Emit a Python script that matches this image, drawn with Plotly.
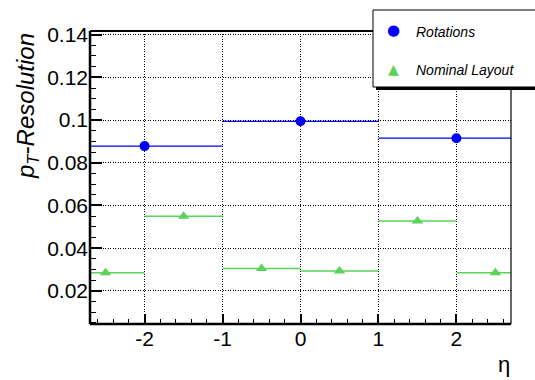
import plotly.graph_objects as go

# Data
rot_eta = [-2.0, 0.0, 2.0]
rot_res = [0.0878, 0.0994, 0.0915]
rot_halfwidth = 1.0

nom_eta = [-2.5, -1.5, -0.5, 0.5, 1.5, 2.5]
nom_res = [0.0285, 0.0549, 0.0305, 0.0293, 0.0527, 0.0285]
nom_halfwidth = 0.5

x_ticks = [-2, -1, 0, 1, 2]
y_ticks = [0.02, 0.04, 0.06, 0.08, 0.1, 0.12, 0.14]

BLUE = "#0000ff"
GREEN = "#5ad35a"
FONT = "Liberation Sans, Arial, Helvetica, sans-serif"

fig = go.Figure()
fig.add_trace(go.Scatter(
    x=nom_eta, y=nom_res, mode="markers",
    marker=dict(symbol="triangle-up", size=10, color=GREEN),
    error_x=dict(type="constant", value=nom_halfwidth, width=0, color=GREEN, thickness=1.5),
    name="Nominal Layout", showlegend=False,
))
fig.add_trace(go.Scatter(
    x=rot_eta, y=rot_res, mode="markers",
    marker=dict(symbol="circle", size=10, color=BLUE),
    error_x=dict(type="constant", value=rot_halfwidth, width=0, color=BLUE, thickness=1.2),
    name="Rotations", showlegend=False,
))

W, H = 535, 380
L, R, T, B = 90, 24, 31, 56
pw, ph = W - L - R, H - T - B

def px(x):
    return (x - L) / pw

def py(y):
    return (H - B - y) / ph

fig.update_layout(
    width=W, height=H,
    margin=dict(l=L, r=R, t=T, b=B, pad=0),
    paper_bgcolor="white", plot_bgcolor="white",
    font=dict(family=FONT, color="black"),
    xaxis=dict(
        range=[-2.7, 2.7], tickvals=x_ticks, ticktext=[str(v) for v in x_ticks],
        ticks="inside", ticklen=10, tickwidth=1.5, tickcolor="black",
        minor=dict(dtick=0.2, ticks="inside", ticklen=5, tickwidth=1, tickcolor="black", showgrid=False),
        showgrid=True, gridcolor="black", griddash="1px,1.5px", gridwidth=1,
        zeroline=False, showline=False,
        tickfont=dict(size=21, family=FONT), ticklabelstandoff=0,
    ),
    yaxis=dict(
        range=[0.0045, 0.1417], tickvals=y_ticks,
        ticktext=["0.02", "0.04", "0.06", "0.08", "0.1", "0.12", "0.14"],
        ticks="inside", ticklen=12, tickwidth=1.5, tickcolor="black",
        minor=dict(dtick=0.005, ticks="inside", ticklen=6, tickwidth=1, tickcolor="black", showgrid=False),
        showgrid=True, gridcolor="black", griddash="1px,1.5px", gridwidth=1,
        zeroline=False, showline=False,
        tickfont=dict(size=21, family=FONT), ticklabelstandoff=1,
    ),
)

shapes = [
    # frame
    dict(type="line", xref="paper", yref="paper", x0=0, x1=0, y0=0, y1=1, line=dict(color="black", width=2.5)),
    dict(type="line", xref="paper", yref="paper", x0=0, x1=1, y0=0, y1=0, line=dict(color="black", width=2.5)),
    dict(type="line", xref="paper", yref="paper", x0=0, x1=1, y0=1, y1=1, line=dict(color="black", width=2)),
    dict(type="line", xref="paper", yref="paper", x0=1, x1=1, y0=0, y1=1, line=dict(color="black", width=1.2)),
    # legend shadow + box
    dict(type="rect", xref="paper", yref="paper", x0=px(376), x1=px(548), y0=py(90), y1=py(13),
         fillcolor="black", line=dict(width=0), layer="above"),
    dict(type="rect", xref="paper", yref="paper", x0=px(373), x1=px(545), y0=py(87), y1=py(10),
         fillcolor="white", line=dict(color="black", width=1), layer="above"),
]
fig.update_layout(shapes=shapes)

ann = [
    dict(text="●", x=px(393), y=py(30), xref="paper", yref="paper", showarrow=False,
         font=dict(size=15, color=BLUE, family="DejaVu Sans"), xanchor="center", yanchor="middle"),
    dict(text="▲", x=px(393), y=py(69), xref="paper", yref="paper", showarrow=False,
         font=dict(size=14, color=GREEN, family="DejaVu Sans"), xanchor="center", yanchor="middle"),
    dict(text="<i>Rotations</i>", x=px(414), y=py(32), xref="paper", yref="paper", showarrow=False,
         font=dict(size=14, family=FONT), xanchor="left", yanchor="middle"),
    dict(text="<i>Nominal Layout</i>", x=px(414), y=py(70), xref="paper", yref="paper", showarrow=False,
         font=dict(size=14, family=FONT), xanchor="left", yanchor="middle"),
    dict(text="<i>p</i><sub><i>T</i></sub><i>-Resolution</i>", x=px(27), y=py(106),
         xref="paper", yref="paper", showarrow=False, textangle=-90,
         font=dict(size=24, family=FONT), xanchor="center", yanchor="middle"),
    dict(text="η", x=px(504), y=py(364), xref="paper", yref="paper", showarrow=False,
         font=dict(size=22, family=FONT), xanchor="center", yanchor="middle"),
]
fig.update_layout(annotations=ann)

fig.write_html("out.html")
